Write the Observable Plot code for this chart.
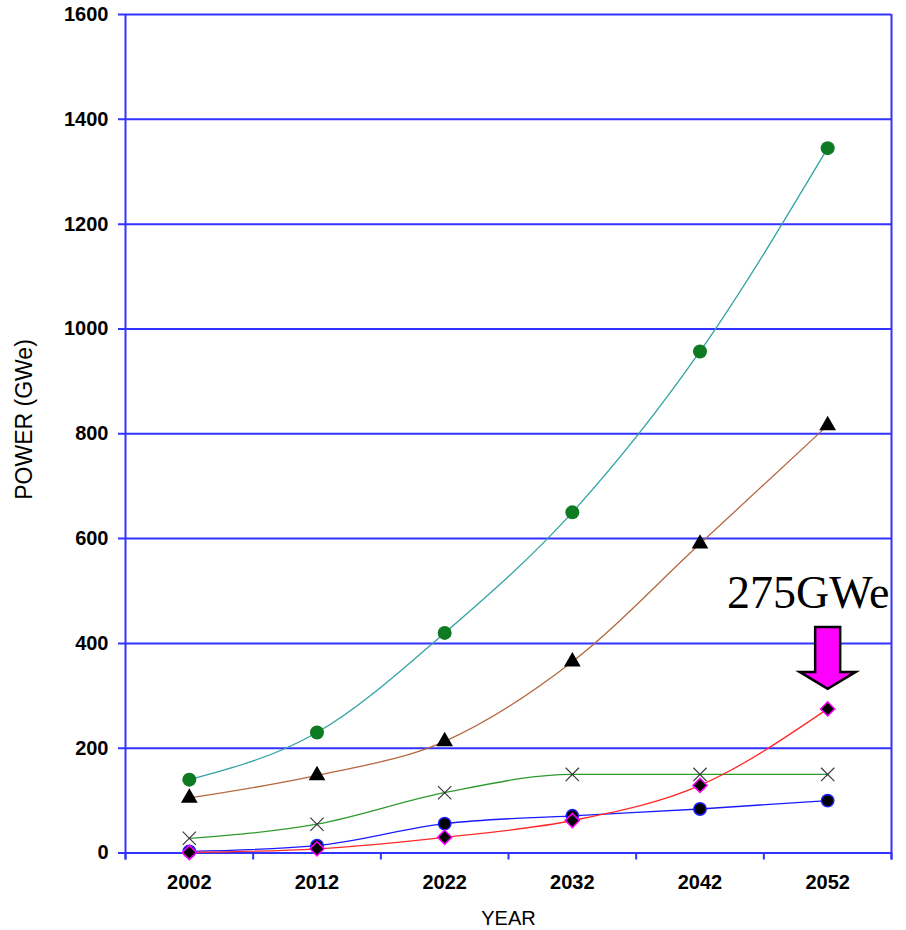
<!DOCTYPE html>
<html>
<head>
<meta charset="utf-8">
<script src="https://cdn.jsdelivr.net/npm/d3@7"></script>
<script src="https://cdn.jsdelivr.net/npm/@observablehq/plot@0.6"></script>
<style>
  html, body { margin: 0; padding: 0; background: #ffffff; }
  #chart svg { display: block; }
</style>
</head>
<body>
<div id="chart"></div>
<script>
// Installed nuclear power (GWe) by decade, five growth scenarios
const years = [2002, 2012, 2022, 2032, 2042, 2052];
const highGrowth = [140, 230, 420, 650, 957, 1345];
const mediumGrowth = [105, 148, 213, 365, 590, 816];
const plateauGrowth = [28, 55, 115, 150, 150, 150];
const lowGrowth = [3, 14, 56, 71, 84, 100];
const breakthroughGrowth = [1, 8, 30, 62, 129, 275];

// Axis ticks
const yTicks = [0, 200, 400, 600, 800, 1000, 1200, 1400, 1600];
const yearBounds = [1997, 2007, 2017, 2027, 2037, 2047, 2057];

const calloutYear = 2052;
const calloutValue = 275;
const calloutText = "275GWe";

const GRID = "#3333ff";

const toRows = (vals) => years.map((year, i) => ({year, value: vals[i]}));

// Block arrow glyph, tip at the symbol origin
const arrowGlyph = {
  draw(context) {
    context.moveTo(-12.5, -62);
    context.lineTo(12.5, -62);
    context.lineTo(12.5, -17);
    context.lineTo(28, -17);
    context.lineTo(0, 0);
    context.lineTo(-28, -17);
    context.lineTo(-12.5, -17);
    context.closePath();
  }
};

function series(vals, lineColor, dotOpts) {
  const rows = toRows(vals);
  return [
    Plot.line(rows, {x: "year", y: "value", stroke: lineColor, strokeWidth: 1.3, curve: "monotone-x"}),
    Plot.dot(rows, {x: "year", y: "value", ...dotOpts})
  ];
}

const chart = Plot.plot({
  width: 906,
  height: 930,
  marginLeft: 125,
  marginRight: 15,
  marginTop: 14,
  marginBottom: 77.5,
  x: {domain: [1997, 2057], axis: null},
  y: {domain: [0, 1600], axis: null},
  style: {fontFamily: "'Liberation Sans', Arial, sans-serif", background: "#ffffff", color: "#000000"},
  marks: [
    // gridlines with left tick stubs
    Plot.ruleY(yTicks, {stroke: GRID, strokeWidth: 2, insetLeft: -7}),
    // frame sides
    Plot.ruleX([yearBounds[0], yearBounds[yearBounds.length - 1]], {stroke: GRID, strokeWidth: 2, insetBottom: -7}),
    // x tick stubs between categories
    Plot.ruleX(yearBounds, {y1: 0, y2: 0, stroke: GRID, strokeWidth: 2, insetBottom: -7}),

    // y tick labels
    Plot.text(yTicks, {x: yearBounds[0], y: d => d, text: d => String(d), textAnchor: "end", dx: -17, fontSize: 20, fontWeight: "bold", fill: "#000"}),
    // x tick labels
    Plot.text(years, {x: d => d, y: 0, text: d => String(d), dy: 29.5, fontSize: 20, fontWeight: "bold", fill: "#000"}),

    // axis titles
    Plot.text(["POWER (GWe)"], {frameAnchor: "left", text: d => d, rotate: -90, dx: -101, dy: 66, fontSize: 23, fill: "#000"}),
    Plot.text(["YEAR"], {frameAnchor: "bottom", text: d => d, lineAnchor: "bottom", dy: 71.5, fontSize: 20, fill: "#000"}),

    // scenarios
    ...series(mediumGrowth, "#b4683f", {symbol: "triangle", r: 6.2, fill: "#000"}),
    ...series(highGrowth, "#33a3a3", {symbol: "circle", r: 7, fill: "#0e7a22"}),
    ...series(plateauGrowth, "#2e9a2e", {symbol: "times", r: 6.1, stroke: "#333", strokeWidth: 1.1}),
    ...series(lowGrowth, "#1a1aff", {symbol: "circle", r: 6.2, fill: "#000", stroke: "#2222ff", strokeWidth: 1.5}),
    ...series(breakthroughGrowth, "#ff2a2a", {symbol: "diamond2", r: 6.4, fill: "#000", stroke: "#ff00ff", strokeWidth: 1.5}),

    // callout for the 2052 breakthrough value
    Plot.dot([{year: calloutYear, value: calloutValue}], {x: "year", y: "value", symbol: arrowGlyph, fill: "#ff00ff", stroke: "#000", strokeWidth: 2.5, dy: -20}),
    Plot.text([{year: calloutYear, value: calloutValue}], {x: "year", y: "value", text: () => calloutText, lineAnchor: "bottom", dx: -19.5, dy: -101, fontSize: 46, fontFamily: "'Liberation Serif', 'Times New Roman', serif", fill: "#000", ariaLabel: "callout"})
  ]
});

const callout = chart.querySelector('[aria-label="callout"]');
if (callout) callout.style.filter = "drop-shadow(3px 4px 2px rgba(0,0,0,0.35))";

document.getElementById("chart").appendChild(chart);
</script>
</body>
</html>
